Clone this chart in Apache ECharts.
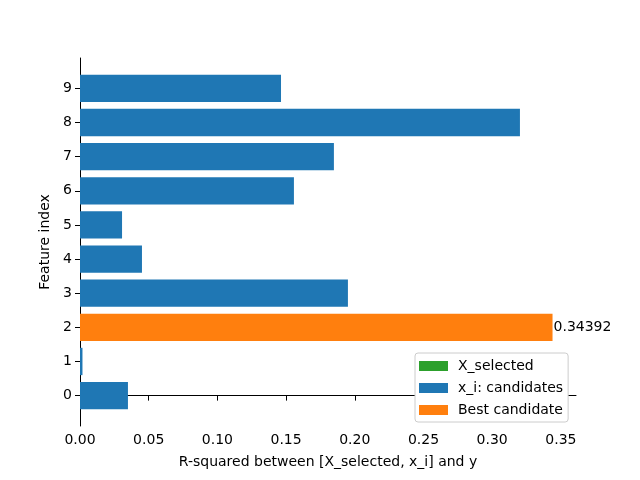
<!DOCTYPE html>
<html>
<head>
<meta charset="utf-8">
<script src="https://cdn.jsdelivr.net/npm/echarts@6/dist/echarts.min.js"></script>
<style>
  html, body { margin: 0; padding: 0; background: #fff; }
  #main { width: 640px; height: 480px; }
</style>
</head>
<body>
<div id="main"></div>
<script>
var features = [0, 1, 2, 3, 4, 5, 6, 7, 8, 9];
var rSquared = [0.0349, 0.0018, 0.34392, 0.195, 0.0451, 0.0306, 0.1557, 0.1848, 0.3202, 0.1463];
var bestIndex = 2;
var xTicks = [0, 0.05, 0.10, 0.15, 0.20, 0.25, 0.30, 0.35];
var legendNames = ['X_selected', 'x_i: candidates', 'Best candidate'];
var colors = ['#2ca02c', '#1f77b4', '#ff7f0e'];

var myChart = echarts.init(document.getElementById('main'));
var font = 'DejaVu Sans';

var candData = [];
var bestData = [];
features.forEach(function(f, i) {
    if (i == bestIndex) {
        bestData.push([rSquared[i], f]);
    } else {
        candData.push([rSquared[i], f]);
    }
});

var renderBar = function(withLabel) {
    return function(params, api) {
        var v = api.value(0);
        var idx = api.value(1);
        var start = api.coord([0, idx]);
        var end = api.coord([v, idx]);
        var h = api.size([0, 0.8])[1];
        var children = [{
            type: 'rect',
            shape: { x: start[0], y: start[1] - h / 2, width: end[0] - start[0], height: h },
            style: { fill: api.visual('color') }
        }];
        if (withLabel) {
            children.push({
                type: 'text',
                x: end[0] + 1,
                y: end[1],
                style: {
                    text: v.toFixed(5),
                    fill: '#000',
                    font: '14px ' + font,
                    textAlign: 'left',
                    textVerticalAlign: 'middle'
                }
            });
        }
        return { type: 'group', children: children };
    };
};

var option = {
    animation: false,
    textStyle: { fontFamily: font },
    grid: { left: 80, right: 64, top: 58, bottom: 54 },
    legend: {
        orient: 'vertical',
        left: 415,
        top: 353,
        padding: [6, 5, 5, 4],
        itemGap: 8,
        itemWidth: 29,
        itemHeight: 10,
        icon: 'rect',
        borderColor: '#cccccc',
        borderWidth: 1,
        borderRadius: 3,
        backgroundColor: '#ffffff',
        textStyle: { fontSize: 14, color: '#000', fontFamily: font, padding: [0, 0, 0, 5] },
        data: legendNames
    },
    xAxis: {
        type: 'value',
        min: 0,
        max: 0.361,
        name: 'R-squared between [X_selected, x_i] and y',
        nameLocation: 'middle',
        nameGap: 29,
        nameTextStyle: { fontSize: 14, color: '#000' },
        axisLine: { show: true, lineStyle: { color: '#000', width: 1 } },
        axisTick: { show: true, length: 5, lineStyle: { color: '#000' }, customValues: xTicks },
        axisLabel: {
            color: '#000', fontSize: 14, margin: 7,
            customValues: xTicks,
            formatter: function(v) { return v.toFixed(2); }
        },
        splitLine: { show: false }
    },
    yAxis: {
        type: 'value',
        min: -0.89,
        max: 9.89,
        name: 'Feature index',
        nameLocation: 'middle',
        nameGap: 23,
        nameTextStyle: { fontSize: 14, color: '#000' },
        axisLine: { show: true, lineStyle: { color: '#000', width: 1 } },
        axisTick: { show: true, length: 5, lineStyle: { color: '#000' }, customValues: features },
        axisLabel: { color: '#000', fontSize: 14, margin: 8, customValues: features },
        splitLine: { show: false }
    },
    series: [{
        name: legendNames[0],
        type: 'custom',
        itemStyle: { color: colors[0] },
        renderItem: renderBar(false),
        data: []
    }, {
        name: legendNames[1],
        type: 'custom',
        itemStyle: { color: colors[1] },
        renderItem: renderBar(false),
        encode: { x: 0, y: 1 },
        data: candData
    }, {
        name: legendNames[2],
        type: 'custom',
        itemStyle: { color: colors[2] },
        renderItem: renderBar(true),
        encode: { x: 0, y: 1 },
        data: bestData
    }]
};

myChart.setOption(option);
</script>
</body>
</html>
